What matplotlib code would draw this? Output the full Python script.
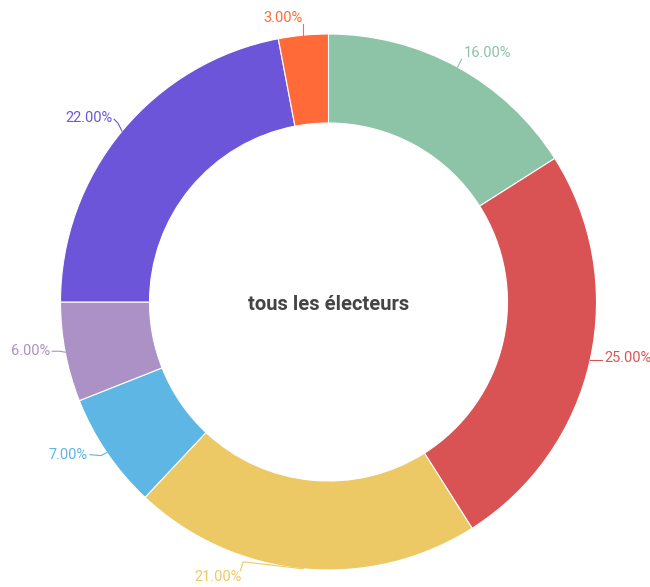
import numpy as np
import matplotlib
matplotlib.use("Agg")
import matplotlib.pyplot as plt

categories = ["A", "B", "C", "D", "E", "F", "G"]
values = [16, 25, 21, 7, 6, 22, 3]
colors = ["#8DC3A7", "#D95355", "#EDC965", "#5DB6E4", "#AB91C5", "#6C55D9", "#FF6A38"]
center_title = "tous les électeurs"

W, H = 650, 587
fig = plt.figure(figsize=(W / 100, H / 100), dpi=100)
ax = fig.add_axes([0, 0, 1, 1])

cx, cy, R = 328.5, 302, 268
inner = 179
wedges, _ = ax.pie(values, colors=colors, startangle=-90, counterclock=True,
                   center=(cx, cy), radius=R, frame=True,
                   wedgeprops=dict(width=R - inner, edgecolor="white", linewidth=0.8))
ax.set_xlim(0, W)
ax.set_ylim(H, 0)
ax.set_aspect("equal")
ax.axis("off")

ax.text(cx, cy + 2, center_title, ha="center", va="center", fontsize=14.5,
        fontweight="bold", color="#444444", family="Roboto")

label_cfg = [
    ([(4, -8)], (6, -14), "left"),
    ([(12, 0)], (14, -2), "left"),
    ([(-60, -7), (-63, 2)], (-62, 8), "right"),
    ([(-6, 3), (-17, 2)], (-19, 2), "right"),
    ([(-6, -1), (-13, -1)], (-15, -1), "right"),
    ([(-4, -8), (-8, -12)], (-9, -13), "right"),
    ([(0, -11)], (-1, -17), "right"),
]

cum = 0
total = sum(values)
for v, col, (path, toff, ha) in zip(values, colors, label_cfg):
    mid = 90 - (cum + v / 2) / total * 360
    cum += v
    a = np.deg2rad(mid)
    ex, ey = cx + R * np.cos(a), cy - R * np.sin(a)
    xs = [ex] + [ex + p[0] for p in path]
    ys = [ey] + [ey + p[1] for p in path]
    ax.plot(xs, ys, color=col, lw=0.8)
    ax.text(ex + toff[0], ey + toff[1], f"{v:.2f}%", ha=ha, va="center",
            fontsize=10.5, color=col, family="Roboto")

fig.savefig("out.png", dpi=100)
